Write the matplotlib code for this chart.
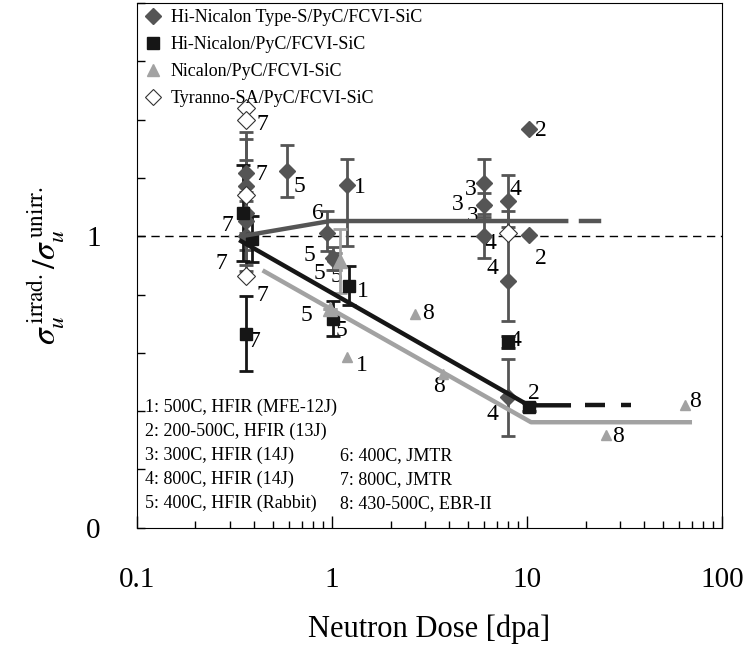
import numpy as np
import matplotlib
matplotlib.use("Agg")
import matplotlib.pyplot as plt
from matplotlib.lines import Line2D
from matplotlib.ticker import MultipleLocator, LogLocator, NullFormatter

plt.rcParams['font.family'] = ['Liberation Serif', 'DejaVu Serif']
plt.rcParams['mathtext.fontset'] = 'stix'

# Hi-Nicalon Type-S (dark diamonds)
typeS_x = [0.365, 0.365, 0.365, 0.365, 0.365, 0.59, 1.19, 0.95, 1.01, 1.04,
           6.0, 6.0, 6.0, 8.0, 8.0, 8.0, 10.2, 10.2]
typeS_y = [1.217, 1.172, 1.08, 1.052, 1.0, 1.224, 1.176, 1.01, 0.924, 0.914,
           1.183, 1.107, 1.0, 1.12, 0.848, 0.448, 1.366, 1.003]
typeS_lo = [0.14, 0.16, 0.18, 0.10, 0.12, 0.09, 0.21, 0.06, 0.04, 0.03,
            0.08, 0.04, 0.075, 0.09, 0.14, 0.134, 0.0, 0.0]
typeS_hi = [0.14, 0.16, 0.18, 0.10, 0.12, 0.09, 0.09, 0.076, 0.04, 0.03,
            0.08, 0.04, 0.075, 0.09, 0.238, 0.131, 0.0, 0.0]

# Hi-Nicalon (black squares)
hn_x = [0.35, 0.39, 0.365, 1.22, 1.01, 8.0, 10.2]
hn_y = [1.08, 0.99, 0.666, 0.83, 0.717, 0.638, 0.414]
hn_err = [0.165, 0.08, 0.13, 0.067, 0.06, 0.02, 0.015]

# Nicalon (grey triangles)
nic_x = [1.1, 0.98, 1.2, 2.68, 3.73, 25.5, 64.4]
nic_y = [0.914, 0.75, 0.586, 0.734, 0.528, 0.317, 0.42]
nic_err = [0.11, 0.0, 0.0, 0.0, 0.0, 0.0, 0.0]

# Tyranno-SA (open diamonds)
ty_x = [0.365, 0.365, 0.365, 0.365, 8.0]
ty_y = [1.441, 1.397, 1.141, 0.862, 1.01]

# trend lines
typeS_line_x = [0.345, 0.98, 15.9]
typeS_line_y = [1.0, 1.052, 1.052]
typeS_ext_x = [19.0, 23.5]
typeS_ext_y = [1.052, 1.052]
hn_line_x = [0.343, 10.2, 16.4]
hn_line_y = [0.983, 0.42, 0.42]
hn_ext_x = [16.4, 34.3]
hn_ext_y = [0.42, 0.42]
nic_line_x = [0.452, 10.5, 68.4]
nic_line_y = [0.879, 0.362, 0.362]

# reference numbers next to points
ref_labels = [
    ('7', 0.441, 1.383), ('7', 0.436, 1.21), ('7', 0.291, 1.038),
    ('7', 0.271, 0.907), ('7', 0.441, 0.797), ('7', 0.401, 0.638),
    ('5', 0.684, 1.172), ('5', 0.77, 0.934), ('5', 0.867, 0.872),
    ('5', 1.06, 0.862), ('5', 0.743, 0.728), ('5', 1.126, 0.676),
    ('6', 0.847, 1.079),
    ('1', 1.39, 1.166), ('1', 1.445, 0.81), ('1', 1.43, 0.555),
    ('8', 3.12, 0.734), ('8', 3.56, 0.486), ('8', 29.4, 0.314), ('8', 72.6, 0.434),
    ('4', 8.78, 0.641), ('4', 6.68, 0.39), ('4', 8.78, 1.159),
    ('4', 6.52, 0.976), ('4', 6.68, 0.89),
    ('3', 5.14, 1.159), ('3', 4.41, 1.107), ('3', 5.27, 1.069),
    ('2', 11.8, 1.362), ('2', 11.8, 0.924), ('2', 10.9, 0.459),
]

conditions_col1 = ['1: 500C, HFIR (MFE-12J)', '2: 200-500C, HFIR (13J)',
                   '3: 300C, HFIR (14J)', '4: 800C, HFIR (14J)',
                   '5: 400C, HFIR (Rabbit)']
conditions_col2 = ['6: 400C, JMTR', '7: 800C, JMTR', '8: 430-500C, EBR-II']

series_names = ['Hi-Nicalon Type-S/PyC/FCVI-SiC', 'Hi-Nicalon/PyC/FCVI-SiC',
                'Nicalon/PyC/FCVI-SiC', 'Tyranno-SA/PyC/FCVI-SiC']

c_typeS = '#555555'
c_hn = '#161616'
c_nic = '#a2a2a2'

fig = plt.figure(figsize=(7.47, 6.46), dpi=100)
ax = fig.add_axes([0.183, 0.183, 0.7835, 0.8125])

ax.axhline(1.0, color='black', lw=1.0, ls=(0, (6, 4)), zorder=1)

ax.errorbar(typeS_x, typeS_y, yerr=[typeS_lo, typeS_hi], fmt='D', ms=8,
            color=c_typeS, mfc=c_typeS, mec=c_typeS, ecolor=c_typeS,
            elinewidth=2, capsize=5, capthick=2, zorder=3)
ax.errorbar(hn_x, hn_y, yerr=hn_err, fmt='s', ms=8, color=c_hn,
            ecolor=c_hn, elinewidth=2, capsize=5, capthick=2, zorder=3)
ax.errorbar(nic_x[:2], nic_y[:2], yerr=nic_err[:2], fmt='^', ms=10,
            color=c_nic, ecolor=c_nic, elinewidth=2, capsize=5, capthick=2,
            zorder=3)
ax.plot(nic_x[2:], nic_y[2:], '^', ms=7, color=c_nic, zorder=3)
ax.plot(ty_x, ty_y, 'D', ms=9, mfc='white', mec='#333333', mew=0.8, zorder=4)

ax.plot(typeS_line_x, typeS_line_y, color=c_typeS, lw=3.2, zorder=5)
ax.plot(typeS_ext_x, typeS_ext_y, color=c_typeS, lw=3.2, zorder=5)
ax.plot(hn_line_x, hn_line_y, color=c_hn, lw=3.2, zorder=5)
ax.plot(hn_ext_x, hn_ext_y, color=c_hn, lw=3.2, ls=(4.5, (4.5, 3.6)), zorder=5)
ax.plot(nic_line_x, nic_line_y, color=c_nic, lw=3.2, zorder=5)

for t, x, y in ref_labels:
    ax.text(x, y, t, fontsize=17, ha='center', va='center', zorder=2)

for i, t in enumerate(conditions_col1):
    ax.text(0.014, 0.229 - i * 0.0458, t, transform=ax.transAxes,
            fontsize=13, va='center', ha='left')
for i, t in enumerate(conditions_col2):
    ax.text(0.347, 0.137 - i * 0.0458, t, transform=ax.transAxes,
            fontsize=13, va='center', ha='left')

ax.set_xscale('log')
ax.set_xlim(0.1, 100)
ax.set_ylim(0, 1.8)
ax.set_xticks([0.1, 1, 10, 100])
ax.set_xticklabels(['0.1', '1', '10', '100'])
ax.xaxis.set_minor_locator(LogLocator(base=10, subs=np.arange(2, 10)))
ax.xaxis.set_minor_formatter(NullFormatter())
ax.set_yticks([0, 1])
ax.set_yticklabels(['0', '1'])
ax.yaxis.set_minor_locator(MultipleLocator(0.2))

ax.tick_params(axis='both', which='both', direction='in', top=False, right=False)
ax.tick_params(axis='x', which='major', length=9, width=1, labelsize=21, pad=28)
ax.tick_params(axis='x', which='minor', length=5, width=1)
ax.tick_params(axis='y', which='major', length=6, width=1, labelsize=21, pad=26)
ax.tick_params(axis='y', which='minor', length=6, width=1)

ax.set_xlabel('Neutron Dose [dpa]', fontsize=22, labelpad=16)
ax.set_ylabel(r'$\sigma_u^{\,\mathrm{irrad.}}/\sigma_u^{\,\mathrm{unirr.}}$',
              fontsize=24, labelpad=14)

handles = [
    Line2D([], [], ls='none', marker='D', ms=8, color=c_typeS),
    Line2D([], [], ls='none', marker='s', ms=8, color=c_hn),
    Line2D([], [], ls='none', marker='^', ms=9, color=c_nic),
    Line2D([], [], ls='none', marker='D', ms=8, mfc='white', mec='#333333', mew=0.8),
]
ax.legend(handles, series_names, loc='upper left', bbox_to_anchor=(-0.01, 1.012),
          frameon=False, fontsize=13, handlelength=1.0, handletextpad=0.5,
          labelspacing=0.55, borderaxespad=0.3)

fig.savefig('out.png', dpi=100)
